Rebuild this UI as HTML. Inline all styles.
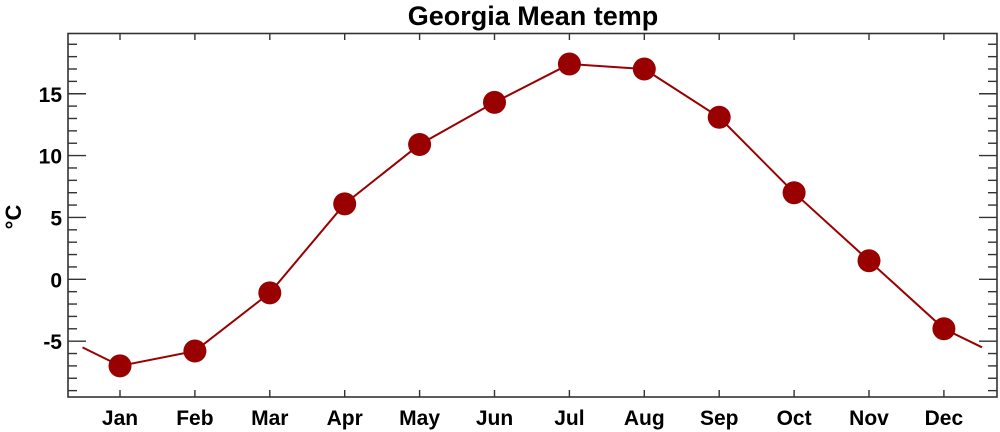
<!DOCTYPE html><html><head><style>body{margin:0;background:#fff}svg{display:block}text{font-family:"Liberation Sans",sans-serif;font-weight:bold}</style></head><body>
<svg width="1000" height="432" viewBox="0 0 1000 432">
<text x="533" y="25" font-size="27" text-anchor="middle">Georgia Mean temp</text>
<g id="ax" stroke="#333" stroke-width="1.6" fill="none">
<rect x="68" y="33.5" width="929" height="363.5"/>
</g>
<g id="t" stroke="#333" stroke-width="1.4"></g>
<g font-size="21" text-anchor="end" id="yl"></g>
<g font-size="21" text-anchor="middle" id="xl"></g>
<text transform="translate(21,217) rotate(-90)" font-size="22" text-anchor="middle">°C</text>
<polyline id="ln" fill="none" stroke="#990000" stroke-width="2"/>
<g id="mk" fill="#990000"></g>
<script>
const ns="http://www.w3.org/2000/svg";
function el(p,t,a,txt){const e=document.createElementNS(ns,t);for(const k in a)e.setAttribute(k,a[k]);if(txt)e.textContent=txt;document.getElementById(p).appendChild(e);}
const Y=v=>279.3-v*12.37, X=i=>120+i*74.9;
for(let v=-9;v<=19;v++){const y=Y(v),maj=v%5==0;const L=maj?18:9;
el('t','line',{x1:68,x2:68+L,y1:y,y2:y});el('t','line',{x1:997,x2:997-L,y1:y,y2:y});
if(maj)el('yl','text',{x:62,y:y+8},String(v));}
const m=["Jan","Feb","Mar","Apr","May","Jun","Jul","Aug","Sep","Oct","Nov","Dec"];
m.forEach((s,i)=>{const x=X(i);el('t','line',{x1:x,x2:x,y1:397,y2:390});el('t','line',{x1:x,x2:x,y1:33.5,y2:40});el('xl','text',{x:x,y:425},s);});
const d=[-7.0,-5.8,-1.1,6.1,10.9,14.3,17.4,17.0,13.1,7.0,1.5,-4.0];
let pts=[[82.5,Y(-5.5)]];d.forEach((v,i)=>pts.push([X(i),Y(v)]));pts.push([982,Y(-5.5)]);
document.getElementById('ln').setAttribute('points',pts.map(p=>p.join(',')).join(' '));
d.forEach((v,i)=>el('mk','circle',{cx:X(i),cy:Y(v),r:11.5}));
</script>
</svg></body></html>
